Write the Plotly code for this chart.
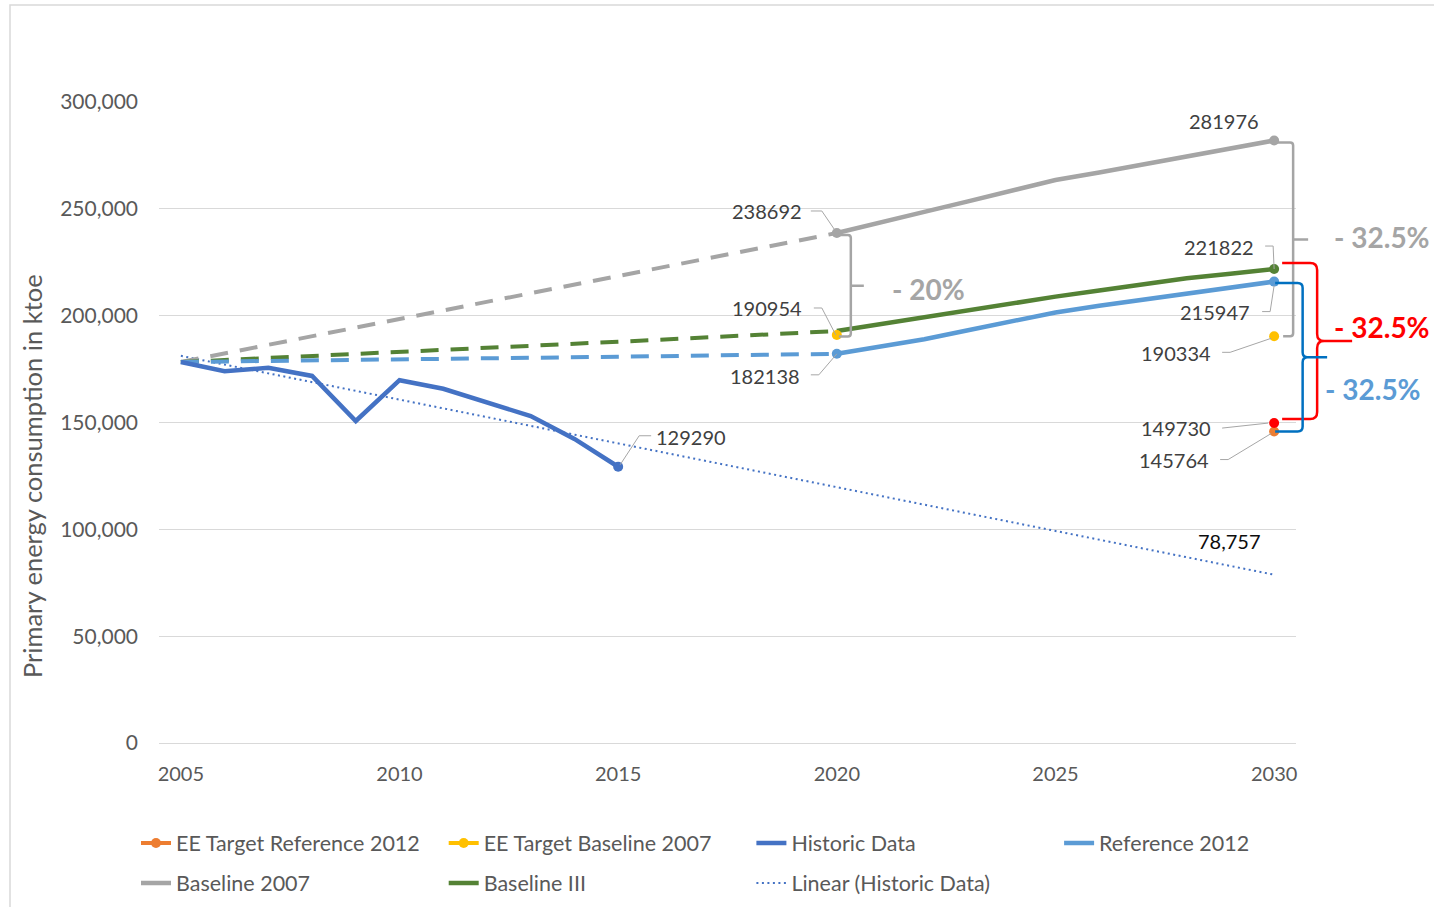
import plotly.graph_objects as go

# ---------------- data (ktoe) ----------------
hist_years = list(range(2005, 2016))
historic = [178300, 174000, 175600, 171800, 150700, 169800,
            165800, 159300, 153000, 142300, 129290]

early_years = [2005, 2010, 2015, 2020]
baseline07_early = [178300, 198500, 218600, 238692]
baseline3_early = [178300, 182900, 187800, 192800]
reference12_early = [178300, 179400, 180800, 182138]

late_years = list(range(2020, 2031))
baseline07_late = [238692, 243400, 248600, 253500, 258400, 263500,
                   267000, 270800, 274300, 278300, 281976]
baseline3_late = [192800, 196100, 199200, 202300, 205700, 208900,
                  211800, 214600, 217500, 219600, 221822]
reference12_late = [182138, 185700, 189000, 193200, 197500, 201500,
                    204600, 207400, 210600, 213500, 215947]

ee_base07_targets = {2020: 190954, 2030: 190334}
ee_ref12_targets = {2030: 145764}
ee_base3_targets = {2030: 149730}

trend_years = [2005, 2030]
trend_values = [181200, 78757]

x_ticks = [2005, 2010, 2015, 2020, 2025, 2030]
y_ticks = [0, 50000, 100000, 150000, 200000, 250000, 300000]

# ---------------- styling ----------------
C_HIST = "#4472C4"
C_REF = "#5B9BD5"
C_BASE07 = "#A5A5A5"
C_BASE3 = "#548235"
C_EE_BASE = "#FFC000"
C_EE_REF = "#ED7D31"
C_RED = "#FF0000"
C_BRACE_BLUE = "#0070C0"
C_TEXT = "#595959"
C_LABEL = "#404040"
C_LEADER = "#A6A6A6"
FONT = "Lato, 'Open Sans', sans-serif"

W, H = 1434, 907
M_L, M_R, M_T, M_B = 159, 138, 102, 164
X_RANGE = [2004.5, 2030.5]
Y_MAX = 300000
PW, PH = W - M_L - M_R, H - M_T - M_B
PX = Y_MAX / PH          # data units per pixel on the y axis

DASH = "18px,12px"
LW = 4.5


def xpaper(year):
    return (year - X_RANGE[0]) / (X_RANGE[1] - X_RANGE[0])


fig = go.Figure()

# linear trend of historic data
fig.add_trace(go.Scatter(
    x=trend_years, y=trend_values, mode="lines", name="Linear (Historic Data)",
    line=dict(color=C_HIST, width=2, dash="2px,3.5px"),
    legend="legend2", legendrank=3))

# dashed history-period parts of the scenarios
for vals, col in [(baseline07_early, C_BASE07), (baseline3_early, C_BASE3),
                  (reference12_early, C_REF)]:
    fig.add_trace(go.Scatter(
        x=early_years, y=vals, mode="lines", showlegend=False,
        line=dict(color=col, width=LW - 0.5, dash=DASH)))

# solid projection parts
fig.add_trace(go.Scatter(
    x=late_years, y=baseline07_late, mode="lines", name="Baseline 2007",
    line=dict(color=C_BASE07, width=LW), legend="legend2", legendrank=1))
fig.add_trace(go.Scatter(
    x=late_years, y=baseline3_late, mode="lines", name="Baseline III",
    line=dict(color=C_BASE3, width=LW), legend="legend2", legendrank=2))
fig.add_trace(go.Scatter(
    x=late_years, y=reference12_late, mode="lines", name="Reference 2012",
    line=dict(color=C_REF, width=LW), legend="legend", legendrank=4))

# historic data
fig.add_trace(go.Scatter(
    x=hist_years, y=historic, mode="lines", name="Historic Data",
    line=dict(color=C_HIST, width=LW), legend="legend", legendrank=3))

# markers on labelled points
MS = 10
fig.add_trace(go.Scatter(
    x=[late_years[0], late_years[-1]], y=[baseline07_late[0], baseline07_late[-1]],
    mode="markers", marker=dict(color=C_BASE07, size=MS), showlegend=False))
fig.add_trace(go.Scatter(
    x=[late_years[-1]], y=[baseline3_late[-1]],
    mode="markers", marker=dict(color=C_BASE3, size=MS), showlegend=False))
fig.add_trace(go.Scatter(
    x=[late_years[0], late_years[-1]], y=[reference12_late[0], reference12_late[-1]],
    mode="markers", marker=dict(color=C_REF, size=MS), showlegend=False))
fig.add_trace(go.Scatter(
    x=[hist_years[-1]], y=[historic[-1]],
    mode="markers", marker=dict(color=C_HIST, size=MS), showlegend=False))

# efficiency targets (series with empty years in between)
fig.add_trace(go.Scatter(
    x=late_years, y=[ee_base07_targets.get(yr) for yr in late_years],
    mode="lines+markers", name="EE Target Baseline 2007", connectgaps=False,
    line=dict(color=C_EE_BASE, width=4), marker=dict(color=C_EE_BASE, size=MS),
    legend="legend", legendrank=2))
fig.add_trace(go.Scatter(
    x=late_years, y=[ee_ref12_targets.get(yr) for yr in late_years],
    mode="lines+markers", name="EE Target Reference 2012", connectgaps=False,
    line=dict(color=C_EE_REF, width=4), marker=dict(color=C_EE_REF, size=MS),
    legend="legend", legendrank=1))
fig.add_trace(go.Scatter(
    x=late_years, y=[ee_base3_targets.get(yr) for yr in late_years],
    mode="markers", marker=dict(color=C_RED, size=MS), showlegend=False))

# ---------------- value labels with leader lines ----------------
annotations = []
shapes = []


def value_label(x, y, text, dx, dy, anchor, leader=None, color=C_LABEL):
    annotations.append(dict(
        x=x, y=y, xref="x", yref="y", text=text, showarrow=False,
        xshift=dx, yshift=dy, xanchor=anchor, yanchor="middle",
        font=dict(family=FONT, size=20, color=color)))
    if leader:
        path = "M " + " L ".join(f"{px},{py}" for px, py in leader)
        shapes.append(dict(
            type="path", xref="x", yref="y", xsizemode="pixel", ysizemode="pixel",
            xanchor=x, yanchor=y, path=path, line=dict(color=C_LEADER, width=1)))


value_label(2030, baseline07_late[-1], str(baseline07_late[-1]), -50, 20, "center")
value_label(2020, baseline07_late[0], str(baseline07_late[0]), -33, 22, "right",
            [(-26, 22), (-15, 22), (0, 0)])
value_label(2020, ee_base07_targets[2020], str(ee_base07_targets[2020]), -33, 27, "right",
            [(-23, 27), (-15, 27), (-1, 0)])
value_label(2020, reference12_late[0], str(reference12_late[0]), -35, -22, "right",
            [(-26, -21), (-18, -21), (0, 0)])
value_label(2030, baseline3_late[-1], str(baseline3_late[-1]), -18, 22, "right",
            [(-9, 23), (-1, 23), (0, 0)])
value_label(2030, reference12_late[-1], str(reference12_late[-1]), -22, -30, "right",
            [(-12, -30), (-4, -30), (0, -4)])
value_label(2030, ee_base07_targets[2030], str(ee_base07_targets[2030]), -61, -17, "right",
            [(-52, -16), (-44, -16), (-3, -2)])
value_label(2030, ee_base3_targets[2030], str(ee_base3_targets[2030]), -61, -5, "right",
            [(-52, -5), (-6, 0)])
value_label(2030, ee_ref12_targets[2030], str(ee_ref12_targets[2030]), -63, -28, "right",
            [(-54, -28), (-46, -28), (-3, -2)])
value_label(2015, historic[-1], str(historic[-1]), 36, 30, "left",
            [(33, 31), (21, 31), (2, 2)])
value_label(2030, trend_values[-1], f"{trend_values[-1]:,}", -45, 34, "center",
            color="#0D0D0D")


# ---------------- braces (paper x so they may extend right of the plot) ----------------
def bracket(year, top, bot, x_left_top, x_left_bot, x_v, x_tick, color, r=3):
    mid = (top + bot) / 2
    path = (f"M {x_left_top},{top} L {x_v - r},{top} Q {x_v},{top} {x_v},{top - r * PX} "
            f"L {x_v},{bot + r * PX} Q {x_v},{bot} {x_v - r},{bot} L {x_left_bot},{bot} "
            f"M {x_v},{mid} L {x_tick},{mid}")
    shapes.append(dict(type="path", xref="paper", yref="y", xsizemode="pixel",
                       xanchor=xpaper(year), path=path, line=dict(color=color, width=2.5)))
    return mid


def curly(year, top, bot, x_left, x_v, x_tip, color, r=7):
    mid = (top + bot) / 2
    path = (f"M {x_left},{top} L {x_v - r},{top} Q {x_v},{top} {x_v},{top - r * PX} "
            f"L {x_v},{mid + r * PX} Q {x_v},{mid} {x_v + r},{mid} L {x_tip},{mid} "
            f"M {x_v + r},{mid} Q {x_v},{mid} {x_v},{mid - r * PX} "
            f"L {x_v},{bot + r * PX} Q {x_v},{bot} {x_v - r},{bot} L {x_left},{bot}")
    shapes.append(dict(type="path", xref="paper", yref="y", xsizemode="pixel",
                       xanchor=xpaper(year), path=path, line=dict(color=color, width=2.5)))
    return mid


def pct_label(x, y, text, dx, dy, color):
    annotations.append(dict(
        x=x, y=y, xref="x", yref="y", text=text, showarrow=False,
        xshift=dx, yshift=dy, xanchor="center", yanchor="middle",
        font=dict(family=FONT, size=28, color=color, weight="bold")))


m20 = bracket(2020, baseline07_late[0] - 2 * PX, ee_base07_targets[2020] - 1.5 * PX,
              2, 2, 14, 27, C_BASE07)
pct_label(2020, m20, "- 20%", 92, -3, C_BASE07)

m_gray = bracket(2030, baseline07_late[-1] - 2 * PX, ee_base07_targets[2030],
                 1, 9, 19, 34, C_BASE07)
pct_label(2030, m_gray, "- 32.5%", 108, 2, C_BASE07)

m_red = curly(2030, baseline3_late[-1] + 6 * PX, ee_base3_targets[2030] + 4 * PX,
              8, 43, 78, C_RED)
pct_label(2030, m_red, "- 32.5%", 108, 14, C_RED)

m_blue = curly(2030, reference12_late[-1] - 1.5 * PX, ee_ref12_targets[2030],
               1, 28.5, 53, C_BRACE_BLUE, r=5)
pct_label(2030, m_blue, "- 32.5%", 99, -32, C_REF)

# y axis title
annotations.append(dict(
    x=(32 - M_L) / PW, y=(H - M_B - 476) / PH,
    xref="paper", yref="paper", text="Primary energy consumption in ktoe",
    textangle=-90, showarrow=False, xanchor="center", yanchor="middle",
    font=dict(family=FONT, size=25.5, color=C_TEXT)))

# chart area border
shapes.append(dict(
    type="rect", xref="paper", yref="paper", layer="below",
    x0=(10 - M_L) / PW, x1=(W + 5 - M_L) / PW,
    y0=(H - M_B - (H + 5)) / PH, y1=(H - M_B - 5) / PH,
    line=dict(color="#D9D9D9", width=1.5)))

legend_common = dict(
    orientation="h", xanchor="left", yanchor="middle",
    entrywidth=262.7, entrywidthmode="pixels",
    font=dict(family=FONT, size=21.5, color=C_TEXT),
    bgcolor="rgba(0,0,0,0)", traceorder="normal")

fig.update_layout(
    width=W, height=H,
    margin=dict(l=M_L, r=M_R, t=M_T, b=M_B, autoexpand=False),
    paper_bgcolor="white", plot_bgcolor="white",
    font=dict(family=FONT, size=20, color=C_TEXT),
    showlegend=True,
    legend=dict(x=(136 - M_L) / PW, y=(H - M_B - 843) / PH, **legend_common),
    legend2=dict(x=(136 - M_L) / PW, y=(H - M_B - 883) / PH, **legend_common),
    xaxis=dict(range=X_RANGE, tickvals=x_ticks, showgrid=False,
               zeroline=False, showline=False, ticks="",
               tickfont=dict(family=FONT, size=20, color=C_TEXT),
               ticklabelstandoff=17),
    yaxis=dict(range=[0, Y_MAX], tickvals=y_ticks, tickformat=",",
               showgrid=True, gridcolor="#D9D9D9", gridwidth=1.3,
               zeroline=True, zerolinecolor="#D9D9D9", zerolinewidth=1.3,
               showline=False, ticks="",
               tickfont=dict(family=FONT, size=21, color=C_TEXT),
               ticklabelstandoff=20),
    annotations=annotations,
    shapes=shapes,
    hovermode=False,
)

fig.write_html("out.html")
